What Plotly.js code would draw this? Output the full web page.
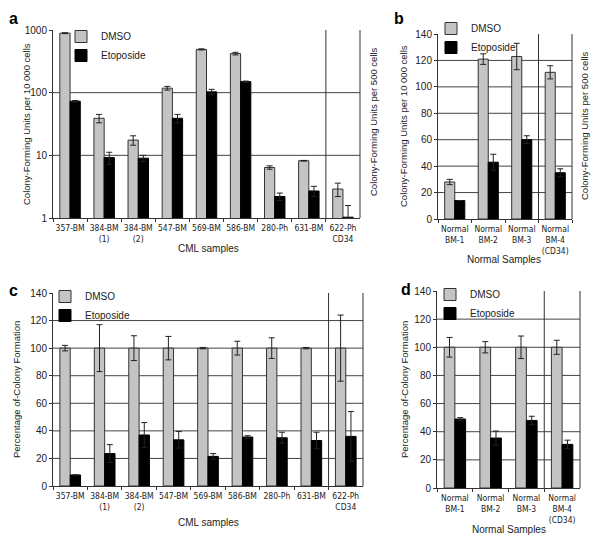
<!DOCTYPE html>
<html><head><meta charset="utf-8">
<script src="https://cdn.plot.ly/plotly-3.0.1.min.js"></script>
<style>body{margin:0;padding:0;background:#fff}#chart{width:600px;height:545px}</style>
</head><body><div id="chart"></div>
<script>
// ---- data ----
const cmlSamples = ['357-BM','384-BM<br>(1)','384-BM<br>(2)','547-BM','569-BM','586-BM','280-Ph','631-BM','622-Ph<br>CD34'];
const normalSamples = ['Normal<br>BM-1','Normal<br>BM-2','Normal<br>BM-3','Normal<br>BM-4<br>(CD34)'];

const cfuCmlDmso    = [890, 39, 17.5, 118, 490, 420, 6.4, 8.2, 2.9];
const cfuCmlDmsoErr = [15, 6, 3, 8, 10, 20, 0.4, 0.1, 0.7];
const cfuCmlEto     = [73, 9.2, 9, 39, 103, 150, 2.2, 2.7, 1.03];
const cfuCmlEtoErr  = [2, 2, 1, 6, 10, 3, 0.3, 0.5, 0.55];

const cfuNormDmso    = [28, 121, 123, 111];
const cfuNormDmsoErr = [2, 4, 10, 5];
const cfuNormEto     = [14, 43, 60, 35];
const cfuNormEtoErr  = [0, 6, 3, 3];

const pctCmlDmso    = [100, 100, 100, 100, 100, 100, 100, 100, 100];
const pctCmlDmsoErr = [2, 17, 9, 8.5, 0.5, 5, 7.5, 0.5, 24];
const pctCmlEto     = [8, 23.5, 37, 33.5, 21.5, 35.5, 35, 33, 36];
const pctCmlEtoErr  = [0, 6.5, 9, 6, 2, 1, 4, 6, 18];

const pctNormDmso    = [100, 100, 100, 100];
const pctNormDmsoErr = [7, 4, 8, 5];
const pctNormEto     = [49, 35.5, 48, 31];
const pctNormEtoErr  = [1, 5, 3, 3];

const logTicks = [1, 10, 100, 1000];
const logGrid = [10, 100];
const linGrid = [20, 40, 60, 80, 100, 120];

// ---- styling ----
const F = '"Liberation Sans", Arial, sans-serif';
const FN = '"DejaVu Sans Condensed", "Liberation Sans", sans-serif';
const TXT = '#222';
const LINE = '#333';
const GREY = '#c4c4c4';
const W = 600, H = 545;
const px = v => v / W;
const py = v => 1 - v / H;

function err(arr) {
  return {type: 'data', array: arr, visible: true, color: '#222', thickness: 1, width: 3};
}
function pair(cats, dm, dmE, et, etE, xa, ya, lg) {
  return [
    {type: 'bar', name: 'DMSO', x: cats, y: dm, error_y: err(dmE), xaxis: xa, yaxis: ya, legend: lg,
     marker: {color: GREY, line: {color: LINE, width: 1}}, showlegend: true},
    {type: 'bar', name: 'Etoposide', x: cats, y: et, error_y: err(etE), xaxis: xa, yaxis: ya, legend: lg,
     marker: {color: '#000', line: {color: '#000', width: 1}}, showlegend: true}
  ];
}

const data = [].concat(
  pair(cmlSamples, cfuCmlDmso, cfuCmlDmsoErr, cfuCmlEto, cfuCmlEtoErr, 'x', 'y', 'legend'),
  pair(normalSamples, cfuNormDmso, cfuNormDmsoErr, cfuNormEto, cfuNormEtoErr, 'x2', 'y2', 'legend2'),
  pair(cmlSamples, pctCmlDmso, pctCmlDmsoErr, pctCmlEto, pctCmlEtoErr, 'x3', 'y3', 'legend3'),
  pair(normalSamples, pctNormDmso, pctNormDmsoErr, pctNormEto, pctNormEtoErr, 'x4', 'y4', 'legend4')
);

function xAx(x0, x1, cats, anchor) {
  return {domain: [px(x0), px(x1)], anchor: anchor, type: 'category', range: [-0.5, cats.length - 0.5],
    showline: true, linecolor: LINE, linewidth: 1, ticks: 'outside', tickson: 'boundaries', ticklen: 3,
    tickcolor: LINE, tickangle: 0, ticklabelstandoff: 2, tickfont: {family: FN, size: 8.5, color: TXT},
    showgrid: false, zeroline: false, fixedrange: true};
}
function yLin(top, bottom, anchor) {
  return {domain: [py(bottom), py(top)], anchor: anchor, range: [0, 140], dtick: 20, tick0: 0,
    showline: true, linecolor: LINE, linewidth: 1, ticks: 'outside', ticklen: 3, tickcolor: LINE,
    tickfont: {family: F, size: 10, color: TXT}, showgrid: false, zeroline: false, fixedrange: true};
}

const shapes = [];
function grid(xa, ya, vals) {
  vals.forEach(v => shapes.push({type: 'line', xref: xa + ' domain', x0: 0, x1: 1, yref: ya, y0: v, y1: v,
    line: {color: '#444', width: 1}, layer: 'below'}));
}
function vlines(xa, ya, cats) {
  shapes.push({type: 'line', xref: xa, x0: cats.length - 1.5, x1: cats.length - 1.5, yref: ya + ' domain', y0: 0, y1: 1,
    line: {color: LINE, width: 1}, layer: 'below'});
  shapes.push({type: 'line', xref: xa + ' domain', x0: 1, x1: 1, yref: ya + ' domain', y0: 0, y1: 1,
    line: {color: LINE, width: 1}, layer: 'below'});
}
grid('x', 'y', logGrid); vlines('x', 'y', cmlSamples);
grid('x2', 'y2', linGrid); vlines('x2', 'y2', normalSamples);
grid('x3', 'y3', linGrid); vlines('x3', 'y3', cmlSamples);
grid('x4', 'y4', linGrid); vlines('x4', 'y4', normalSamples);

function ann(text, x, y, opts) {
  return Object.assign({text: text, xref: 'paper', yref: 'paper', x: px(x), y: py(y), showarrow: false,
    font: {family: F, size: 10, color: TXT}, xanchor: 'center', yanchor: 'middle'}, opts || {});
}
const letterFont = {family: F, size: 16, color: '#000', weight: 'bold'};
const titleFont = {family: F, size: 9.5, color: TXT};
const annotations = [
  ann('<b>a</b>', 7, 8, {xanchor: 'left', yanchor: 'top', font: letterFont}),
  ann('<b>b</b>', 392, 8, {xanchor: 'left', yanchor: 'top', font: letterFont}),
  ann('<b>c</b>', 7, 280, {xanchor: 'left', yanchor: 'top', font: letterFont}),
  ann('<b>d</b>', 399, 279, {xanchor: 'left', yanchor: 'top', font: letterFont}),
  ann('Colony-Forming Units per 10 000 cells', 26, 124, {textangle: -90, font: titleFont}),
  ann('Colony-Forming Units per 500 cells', 373, 122, {textangle: -90, font: titleFont}),
  ann('Colony-Forming Units per 10 000 cells', 403, 126, {textangle: -90, font: titleFont}),
  ann('Colony-Forming Units per 500 cells', 584, 126, {textangle: -90, font: titleFont}),
  ann('Percentage of-Colony Formation', 16, 390, {textangle: -90, font: titleFont}),
  ann('Percentage of-Colony Formation', 404, 390, {textangle: -90, font: titleFont}),
  ann('CML samples', 208, 249),
  ann('Normal Samples', 504, 259),
  ann('CML samples', 208, 522),
  ann('Normal Samples', 509, 529)
];

function leg(x, y) {
  return {x: px(x), y: py(y), xanchor: 'left', yanchor: 'top', bgcolor: 'rgba(0,0,0,0)', borderwidth: 0,
    font: {family: F, size: 10, color: TXT}, itemclick: false, itemdoubleclick: false};
}

const layout = {
  width: W, height: H, margin: {l: 0, r: 0, t: 0, b: 0}, paper_bgcolor: '#fff', plot_bgcolor: 'rgba(0,0,0,0)',
  barmode: 'group', bargap: 0.4, bargroupgap: 0, showlegend: true,
  font: {family: F, size: 10, color: TXT},
  xaxis: xAx(53, 360, cmlSamples, 'y'),
  yaxis: Object.assign(yLin(30, 218, 'x'), {type: 'log', range: [0, 3], tickvals: logTicks, ticktext: logTicks.map(String), dtick: null}),
  xaxis2: xAx(438, 572, normalSamples, 'y2'),
  yaxis2: yLin(34, 219, 'x2'),
  xaxis3: xAx(53, 363, cmlSamples, 'y3'),
  yaxis3: yLin(293, 486, 'x3'),
  xaxis4: xAx(437, 580, normalSamples, 'y4'),
  yaxis4: yLin(291, 488, 'x4'),
  legend: leg(61, 22),
  legend2: leg(431, 14),
  legend3: leg(45, 282),
  legend4: leg(430, 280),
  shapes: shapes,
  annotations: annotations
};

Plotly.newPlot('chart', data, layout, {staticPlot: true, displayModeBar: false});
</script></body></html>
